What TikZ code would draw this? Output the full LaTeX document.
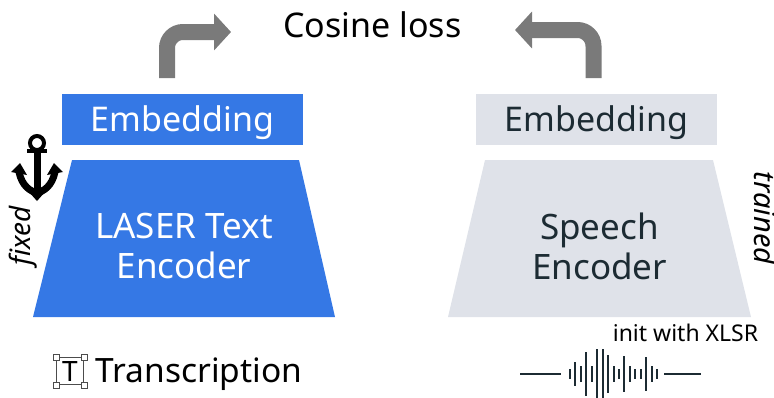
\documentclass[tikz,border=0pt]{standalone}
\usepackage{fontspec}
\setmainfont{Noto Sans}
\usetikzlibrary{arrows.meta}
\definecolor{fbblue}{HTML}{3578E5}
\definecolor{fbgrey}{HTML}{DFE2E9}
\definecolor{darktext}{HTML}{1C2B33}
\begin{document}
\begin{tikzpicture}
[x=1pt,y=-1pt
,embed/.style={minimum width=241pt,minimum height=51pt,inner sep=0pt,text depth=2pt,font=\fontsize{34}{34}\selectfont}
,enclabel/.style={align=center,font=\fontsize{35}{40}\selectfont}
,bendarrow/.style={draw=black!52,line width=16pt,rounded corners=16pt,arrows={-{Triangle[length=17pt,width=36pt]}}}
,handle/.style={draw=black!70,fill=white,line width=0.7pt,minimum size=6pt,inner sep=0pt}
,bar/.style={line width=1.8pt,draw=darktext}
]
\useasboundingbox (0,0) rectangle (774,397);
\node[embed,fill=fbblue,text=white] (embleft) at (182.5,119.5) {Embedding};
\node[embed,fill=fbgrey,text=darktext] (embright) at (596.5,119.5) {Embedding};
\fill[fbblue] (72,160) -- (299,160) -- (335,317) -- (33,317) -- cycle;
\fill[fbgrey] (485,160) -- (713,160) -- (751,317) -- (448,317) -- cycle;
\node[enclabel,text=white] (encleft) at (184,246) {LASER Text\\Encoder};
\node[enclabel,text=darktext] (encright) at (599.5,246) {Speech\\Encoder};
\node[font=\fontsize{34}{34}\selectfont] (loss) at (372.5,25) {Cosine loss};
\coordinate (startleft) at (167,78);
\coordinate (endleft) at (231,32);
\coordinate (startright) at (593.5,78);
\coordinate (endright) at (515,30);
\draw[bendarrow] (startleft) |- (endleft);
\draw[bendarrow] (startright) |- (endright);
\node[rotate=90,font=\itshape\fontsize{28}{28}\selectfont] (fixed) at (23,236) {fixed};
\node[rotate=-90,font=\itshape\fontsize{29}{29}\selectfont] (trained) at (765,218) {trained};
% anchor
\draw[line width=4pt] (37,143) circle (7pt);
\draw[line width=4pt] (27,151) -- (47,151);
\draw[line width=7pt] (37,150) -- (37,192);
\draw[line width=7pt] (19,172) .. controls (22,186) and (30,191) .. (37,193);
\draw[line width=7pt] (55,172) .. controls (52,186) and (44,191) .. (37,193);
\fill (11,172) -- (20,163) -- (27,175) -- cycle;
\fill (63,172) -- (54,163) -- (47,175) -- cycle;
\fill (29,192) -- (45,192) -- (37,201) -- cycle;
% transcription
\node[font=\fontsize{33.5}{34}\selectfont,anchor=west] (trans) at (92,374) {Transcription};
\node[draw=black!70,line width=0.8pt,minimum size=27pt,inner sep=0pt,font=\fontsize{28}{28}\selectfont] (tbox) at (70,371) {T};
\foreach \c in {north west,north east,south west,south east}
  \node[handle] at (tbox.\c) {};
% waveform
\node[font=\fontsize{23}{24}\selectfont] (init) at (685.5,333) {init with XLSR};
\coordinate (waveleft) at (520,374);
\coordinate (waveleftend) at (561,374);
\coordinate (waveright) at (664,374);
\coordinate (waverightend) at (701,374);
\draw[bar] (waveleft) -- (waveleftend);
\draw[bar] (waveright) -- (waverightend);
\foreach \x/\h in {570/5,575.3/12,581/8,586.3/22,592/8,597.3/25,602.7/25,608.3/19,613.7/8,619/5,624.3/18,630/8,635.3/5,640.7/5,646/17,651.7/8,657/5}
  \draw[bar] (\x,374-\h) -- (\x,374+\h);
\end{tikzpicture}
\end{document}
